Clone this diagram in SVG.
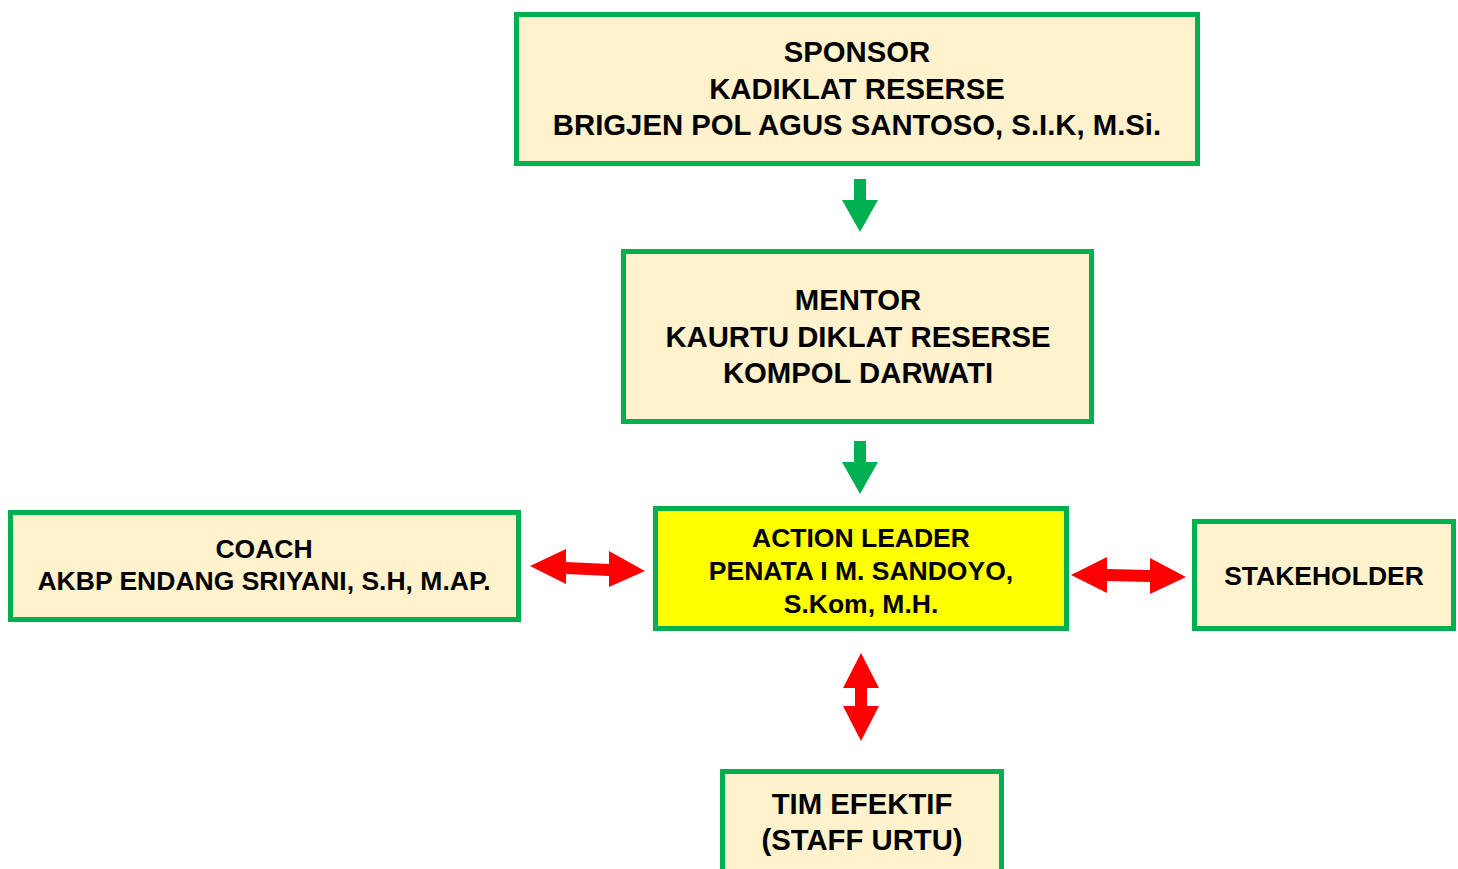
<svg xmlns="http://www.w3.org/2000/svg" width="1458" height="869" viewBox="0 0 1458 869">
  <style>
    .box { fill: #FFF2CC; stroke: #00B050; stroke-width: 5; }
    .lead { fill: #FFFF00; stroke: #00B050; stroke-width: 5; }
    .t { font-family: "Liberation Sans", Arial, sans-serif; font-weight: bold; fill: #000; text-anchor: middle; }
    .big { font-size: 29.3px; }
    .small { font-size: 26.5px; }
    .down { fill: #00B050; }
    .both { fill: #FF0000; }
  </style>
  <rect width="1458" height="869" fill="#FFFFFF"/>

  <g id="sponsor">
    <rect class="box" x="516.5" y="14.5" width="681" height="149"/>
    <text class="t big" x="857" y="62">SPONSOR</text>
    <text class="t big" x="857" y="98.5">KADIKLAT RESERSE</text>
    <text class="t big" x="857" y="135">BRIGJEN POL AGUS SANTOSO, S.I.K, M.Si.</text>
  </g>

  <g id="mentor">
    <rect class="box" x="623.5" y="251.5" width="468" height="170"/>
    <text class="t big" x="858" y="310">MENTOR</text>
    <text class="t big" x="858" y="346.5">KAURTU DIKLAT RESERSE</text>
    <text class="t big" x="858" y="383">KOMPOL DARWATI</text>
  </g>

  <g id="action-leader">
    <rect class="lead" x="655.5" y="508.5" width="411" height="120"/>
    <text class="t small" x="861" y="547">ACTION LEADER</text>
    <text class="t small" x="861" y="580">PENATA I M. SANDOYO,</text>
    <text class="t small" x="861" y="613">S.Kom, M.H.</text>
  </g>

  <g id="coach">
    <rect class="box" x="10.5" y="512.5" width="508" height="107"/>
    <text class="t small" x="264" y="558">COACH</text>
    <text class="t small" x="264" y="590">AKBP ENDANG SRIYANI, S.H, M.AP.</text>
  </g>

  <g id="stakeholder">
    <rect class="box" x="1194.5" y="521.5" width="259" height="107"/>
    <text class="t small" x="1324" y="585">STAKEHOLDER</text>
  </g>

  <g id="tim-efektif">
    <rect class="box" x="722.5" y="771.5" width="279" height="110"/>
    <text class="t big" x="862" y="814">TIM EFEKTIF</text>
    <text class="t big" x="862" y="850">(STAFF URTU)</text>
  </g>

  <g id="connectors">
    <!-- sponsor to mentor -->
    <polygon class="down" points="854,179 866,179 866,200 878,200 860,232 842,200 854,200"/>
    <!-- mentor to action leader -->
    <polygon class="down" points="854,441 866,441 866,462 878,462 860,494 842,462 854,462"/>
    <!-- coach <-> action leader -->
    <polygon class="both" points="530,566 566,549 566,562 609,564 609,551 645,571 609,587 609,576 566,574 566,584"/>
    <!-- action leader <-> stakeholder -->
    <polygon class="both" points="1071,575 1107,557 1107,569 1150,570 1150,558 1186,577 1150,594 1150,582 1107,581 1107,593"/>
    <!-- action leader <-> tim efektif -->
    <polygon class="both" points="861,653 879,688 867,688 867,706 879,706 861,741 843,706 855,706 855,688 843,688"/>
  </g>
</svg>
